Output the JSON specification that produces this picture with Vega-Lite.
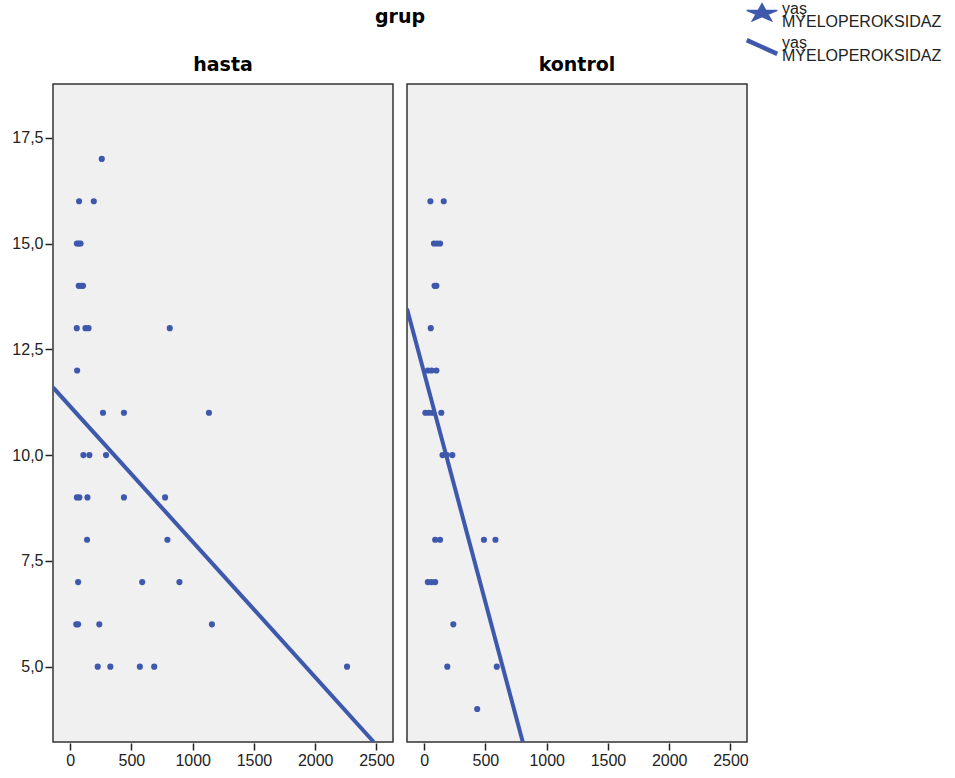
{
  "$schema": "https://vega.github.io/schema/vega-lite/v6.json",
  "background": "white",
  "padding": {"left": 11, "top": 5, "right": 5, "bottom": 5},
  "data": {
    "values": [
      {"grup": "hasta", "type": "pts", "mpo": 258, "yas": 17},
      {"grup": "hasta", "type": "pts", "mpo": 73, "yas": 16},
      {"grup": "hasta", "type": "pts", "mpo": 193, "yas": 16},
      {"grup": "hasta", "type": "pts", "mpo": 55, "yas": 15},
      {"grup": "hasta", "type": "pts", "mpo": 70, "yas": 15},
      {"grup": "hasta", "type": "pts", "mpo": 85, "yas": 15},
      {"grup": "hasta", "type": "pts", "mpo": 70, "yas": 14},
      {"grup": "hasta", "type": "pts", "mpo": 90, "yas": 14},
      {"grup": "hasta", "type": "pts", "mpo": 105, "yas": 14},
      {"grup": "hasta", "type": "pts", "mpo": 54, "yas": 13},
      {"grup": "hasta", "type": "pts", "mpo": 125, "yas": 13},
      {"grup": "hasta", "type": "pts", "mpo": 150, "yas": 13},
      {"grup": "hasta", "type": "pts", "mpo": 813, "yas": 13},
      {"grup": "hasta", "type": "pts", "mpo": 57, "yas": 12},
      {"grup": "hasta", "type": "pts", "mpo": 268, "yas": 11},
      {"grup": "hasta", "type": "pts", "mpo": 439, "yas": 11},
      {"grup": "hasta", "type": "pts", "mpo": 1133, "yas": 11},
      {"grup": "hasta", "type": "pts", "mpo": 108, "yas": 10},
      {"grup": "hasta", "type": "pts", "mpo": 157, "yas": 10},
      {"grup": "hasta", "type": "pts", "mpo": 293, "yas": 10},
      {"grup": "hasta", "type": "pts", "mpo": 55, "yas": 9},
      {"grup": "hasta", "type": "pts", "mpo": 75, "yas": 9},
      {"grup": "hasta", "type": "pts", "mpo": 141, "yas": 9},
      {"grup": "hasta", "type": "pts", "mpo": 439, "yas": 9},
      {"grup": "hasta", "type": "pts", "mpo": 775, "yas": 9},
      {"grup": "hasta", "type": "pts", "mpo": 138, "yas": 8},
      {"grup": "hasta", "type": "pts", "mpo": 794, "yas": 8},
      {"grup": "hasta", "type": "pts", "mpo": 65, "yas": 7},
      {"grup": "hasta", "type": "pts", "mpo": 588, "yas": 7},
      {"grup": "hasta", "type": "pts", "mpo": 892, "yas": 7},
      {"grup": "hasta", "type": "pts", "mpo": 50, "yas": 6},
      {"grup": "hasta", "type": "pts", "mpo": 65, "yas": 6},
      {"grup": "hasta", "type": "pts", "mpo": 238, "yas": 6},
      {"grup": "hasta", "type": "pts", "mpo": 1157, "yas": 6},
      {"grup": "hasta", "type": "pts", "mpo": 225, "yas": 5},
      {"grup": "hasta", "type": "pts", "mpo": 328, "yas": 5},
      {"grup": "hasta", "type": "pts", "mpo": 569, "yas": 5},
      {"grup": "hasta", "type": "pts", "mpo": 686, "yas": 5},
      {"grup": "hasta", "type": "pts", "mpo": 2260, "yas": 5},
      {"grup": "kontrol", "type": "pts", "mpo": 51, "yas": 16},
      {"grup": "kontrol", "type": "pts", "mpo": 160, "yas": 16},
      {"grup": "kontrol", "type": "pts", "mpo": 80, "yas": 15},
      {"grup": "kontrol", "type": "pts", "mpo": 105, "yas": 15},
      {"grup": "kontrol", "type": "pts", "mpo": 130, "yas": 15},
      {"grup": "kontrol", "type": "pts", "mpo": 85, "yas": 14},
      {"grup": "kontrol", "type": "pts", "mpo": 100, "yas": 14},
      {"grup": "kontrol", "type": "pts", "mpo": 54, "yas": 13},
      {"grup": "kontrol", "type": "pts", "mpo": 30, "yas": 12},
      {"grup": "kontrol", "type": "pts", "mpo": 60, "yas": 12},
      {"grup": "kontrol", "type": "pts", "mpo": 100, "yas": 12},
      {"grup": "kontrol", "type": "pts", "mpo": 10, "yas": 11},
      {"grup": "kontrol", "type": "pts", "mpo": 40, "yas": 11},
      {"grup": "kontrol", "type": "pts", "mpo": 70, "yas": 11},
      {"grup": "kontrol", "type": "pts", "mpo": 140, "yas": 11},
      {"grup": "kontrol", "type": "pts", "mpo": 150, "yas": 10},
      {"grup": "kontrol", "type": "pts", "mpo": 185, "yas": 10},
      {"grup": "kontrol", "type": "pts", "mpo": 230, "yas": 10},
      {"grup": "kontrol", "type": "pts", "mpo": 90, "yas": 8},
      {"grup": "kontrol", "type": "pts", "mpo": 130, "yas": 8},
      {"grup": "kontrol", "type": "pts", "mpo": 488, "yas": 8},
      {"grup": "kontrol", "type": "pts", "mpo": 582, "yas": 8},
      {"grup": "kontrol", "type": "pts", "mpo": 30, "yas": 7},
      {"grup": "kontrol", "type": "pts", "mpo": 60, "yas": 7},
      {"grup": "kontrol", "type": "pts", "mpo": 90, "yas": 7},
      {"grup": "kontrol", "type": "pts", "mpo": 238, "yas": 6},
      {"grup": "kontrol", "type": "pts", "mpo": 189, "yas": 5},
      {"grup": "kontrol", "type": "pts", "mpo": 593, "yas": 5},
      {"grup": "kontrol", "type": "pts", "mpo": 433, "yas": 4},
      {"grup": "hasta", "type": "fit", "mpo": -140, "yas": 11.6},
      {"grup": "hasta", "type": "fit", "mpo": 2478, "yas": 3.22},
      {"grup": "kontrol", "type": "fit", "mpo": -140, "yas": 13.46},
      {"grup": "kontrol", "type": "fit", "mpo": 805, "yas": 3.22}
    ]
  },
  "facet": {
    "column": {
      "field": "grup",
      "type": "nominal",
      "title": "grup",
      "header": {
        "titleFont": "DejaVu Sans",
        "titleFontSize": 19,
        "titleFontWeight": "bold",
        "titleColor": "black",
        "titlePadding": 19,
        "labelFont": "DejaVu Sans",
        "labelFontSize": 19,
        "labelFontWeight": "bold",
        "labelColor": "black",
        "labelPadding": 8
      }
    }
  },
  "spacing": 12,
  "spec": {
    "width": 340,
    "height": 658,
    "layer": [
      {
        "transform": [{"filter": "datum.type === 'pts'"}],
        "mark": {"type": "point", "filled": true, "opacity": 1, "size": 38, "color": "#3E58AC"},
        "encoding": {
          "x": {"field": "mpo", "type": "quantitative"},
          "y": {"field": "yas", "type": "quantitative"}
        }
      },
      {
        "transform": [{"filter": "datum.type === 'fit'"}],
        "mark": {"type": "line", "color": "#3E58AC", "strokeWidth": 4, "clip": true},
        "encoding": {
          "x": {"field": "mpo", "type": "quantitative"},
          "y": {"field": "yas", "type": "quantitative"}
        }
      },
      {
        "mark": {"type": "point", "filled": true, "opacity": 0, "size": 38, "color": "#3E58AC", "clip": true},
        "encoding": {
          "x": {"field": "mpo", "type": "quantitative"},
          "y": {"field": "yas", "type": "quantitative"},
          "shape": {
            "field": "type",
            "type": "nominal",
            "scale": {
              "domain": ["pts", "fit"],
              "range": [
                "M0,-0.6L0.24,-0.18L1,-0.17L0.38,0.08L0.62,0.5L0,0.24L-0.62,0.5L-0.38,0.08L-1,-0.17L-0.24,-0.18Z",
                "M-1,-0.45L1,0.45"
              ]
            },
            "legend": {
              "title": null,
              "orient": "none",
              "legendX": 701,
              "legendY": -79,
              "labelExpr": "['yaş','MYELOPEROKSIDAZ']",
              "labelFont": "Liberation Sans",
              "labelFontSize": 16,
              "labelColor": "#222",
              "symbolSize": 930,
              "symbolOpacity": 1,
              "rowPadding": 1,
              "labelOffset": 12,
              "encoding": {
                "symbols": {
                  "fill": {"value": {"expr": "datum.value === 'pts' ? '#3E58AC' : 'transparent'"}},
                  "stroke": {"value": "#3E58AC"},
                  "strokeWidth": {"value": {"expr": "datum.value === 'pts' ? 1.5 : 4.5"}},
                  "opacity": {"value": 1}
                },
                "labels": {"lineHeight": {"value": 13}, "dy": {"value": -4}}
              }
            }
          }
        }
      }
    ],
    "encoding": {
      "x": {
        "field": "mpo",
        "type": "quantitative",
        "scale": {"domain": [-140, 2635], "nice": false, "zero": false},
        "axis": {"title": null, "values": [0, 500, 1000, 1500, 2000, 2500], "format": "d"}
      },
      "y": {
        "field": "yas",
        "type": "quantitative",
        "scale": {"domain": [3.22, 18.77], "nice": false, "zero": false},
        "axis": {"title": null, "values": [5, 7.5, 10, 12.5, 15, 17.5], "labelExpr": "replace(format(datum.value, '.1f'), '.', ',')"}
      }
    }
  },
  "config": {
    "view": {"fill": "#F0F0F0", "stroke": "#333333", "strokeWidth": 1.5},
    "axis": {
      "grid": false,
      "domain": false,
      "ticks": true,
      "tickSize": 7,
      "tickColor": "#222",
      "tickWidth": 1.5,
      "labelFont": "Liberation Sans",
      "labelFontSize": 16,
      "labelColor": "#222",
      "labelPadding": 2
    }
  }
}
